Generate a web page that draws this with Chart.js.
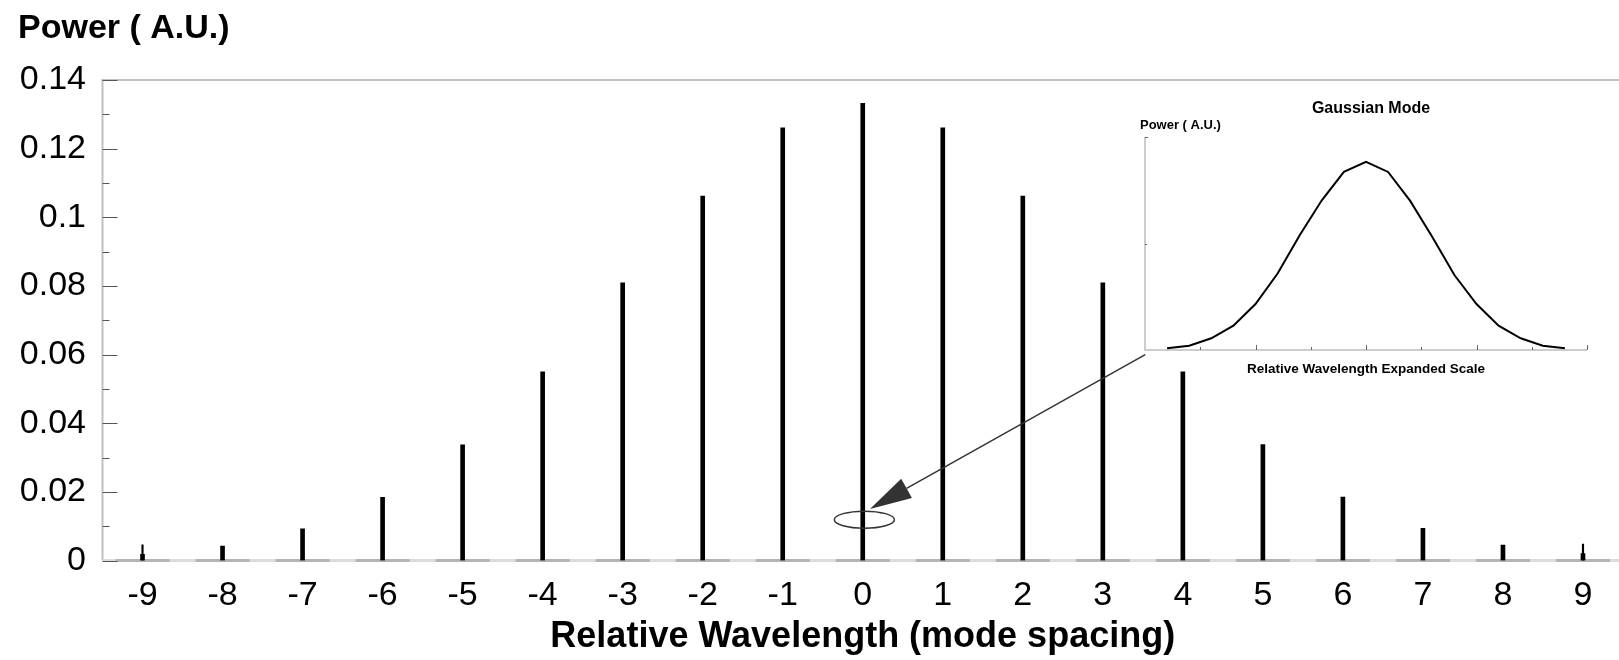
<!DOCTYPE html>
<html>
<head>
<meta charset="utf-8">
<script src="https://cdn.jsdelivr.net/npm/chart.js@4.4.1/dist/chart.umd.min.js"></script>
<style>
  html, body { margin: 0; padding: 0; background: #fff; overflow: hidden; }
  #wrap { position: relative; width: 1623px; height: 660px; }
  .box { position: absolute; }
</style>
</head>
<body>
<div id="wrap">
  <div class="box" style="left:0;top:0;width:1623px;height:660px"><canvas id="main"></canvas></div>
  <div class="box" style="left:1090px;top:85px;width:520px;height:300px"><canvas id="inset"></canvas></div>
</div>
<script>
// mode comb (main chart)
const modes = [-9, -8, -7, -6, -5, -4, -3, -2, -1, 0, 1, 2, 3, 4, 5, 6, 7, 8, 9];
const power = [0.0018, 0.0042, 0.0092, 0.0184, 0.0337, 0.0550, 0.0809, 0.1062, 0.1261, 0.1332,
               0.1261, 0.1062, 0.0809, 0.0550, 0.0338, 0.0185, 0.0094, 0.0045, 0.0020];
// thin marks at the outer modes
const edgeModes = [-9, 9];
const edgePower = [0.0046, 0.0048];

const xTickLabels = ['-9', '-8', '-7', '-6', '-5', '-4', '-3', '-2', '-1', '0',
                     '1', '2', '3', '4', '5', '6', '7', '8', '9'];
const yTicks = [0, 0.02, 0.04, 0.06, 0.08, 0.1, 0.12, 0.14];
const yTickLabels = ['0', '0.02', '0.04', '0.06', '0.08', '0.1', '0.12', '0.14'];
const yMinorTicks = [0.01, 0.03, 0.05, 0.07, 0.09, 0.11, 0.13];

// single gaussian mode (inset)
const gaussX = [1, 2, 3, 4, 5, 6, 7, 8, 9, 10, 11, 12, 13, 14, 15, 16, 17, 18, 19];
const gaussY = [0.008, 0.020, 0.055, 0.114, 0.216, 0.359, 0.539, 0.703, 0.836, 0.883,
                0.836, 0.700, 0.531, 0.352, 0.216, 0.114, 0.055, 0.020, 0.008];
const insetXTicks = [2.5, 5, 7.5, 10, 12.5, 15, 17.5, 20];

const FONT = "'Liberation Sans', Arial, Helvetica, sans-serif";
Chart.defaults.font.family = FONT;
Chart.defaults.color = '#000';

const mainFrame = {
  id: 'mainFrame',
  beforeDatasetsDraw(chart) {
    const { ctx, chartArea: a, scales: { x, y } } = chart;
    ctx.save();
    // top and left border
    ctx.strokeStyle = '#c0c0c0';
    ctx.lineWidth = 2;
    ctx.beginPath();
    ctx.moveTo(a.left, a.bottom);
    ctx.lineTo(a.left, a.top);
    ctx.lineTo(a.right, a.top);
    ctx.stroke();
    // bottom axis
    ctx.strokeStyle = '#dcdcdc';
    ctx.lineWidth = 3;
    ctx.beginPath();
    ctx.moveTo(a.left, a.bottom);
    ctx.lineTo(a.right, a.bottom);
    ctx.stroke();
    ctx.strokeStyle = '#b4b4b4';
    modes.forEach(m => {
      const px = x.getPixelForValue(m);
      ctx.beginPath();
      ctx.moveTo(px - 27, a.bottom);
      ctx.lineTo(px + 27, a.bottom);
      ctx.stroke();
    });
    // y ticks, inward
    ctx.strokeStyle = '#555';
    ctx.lineWidth = 1;
    yTicks.forEach(v => {
      const py = Math.round(y.getPixelForValue(v)) + 0.5;
      ctx.beginPath();
      ctx.moveTo(a.left, py);
      ctx.lineTo(a.left + 15, py);
      ctx.stroke();
    });
    yMinorTicks.forEach(v => {
      const py = Math.round(y.getPixelForValue(v)) + 0.5;
      ctx.beginPath();
      ctx.moveTo(a.left, py);
      ctx.lineTo(a.left + 7, py);
      ctx.stroke();
    });
    ctx.restore();
  },
  afterDatasetsDraw(chart) {
    const { ctx, scales: { x, y } } = chart;
    ctx.save();
    // ellipse around the centre mode
    ctx.strokeStyle = '#333';
    ctx.lineWidth = 1.5;
    ctx.beginPath();
    ctx.ellipse(x.getPixelForValue(0.02), y.getPixelForValue(0.0119), 30, 8.5, 0, 0, Math.PI * 2);
    ctx.stroke();
    // arrow from inset corner
    const x0 = x.getPixelForValue(3.53), y0 = y.getPixelForValue(0.0600);
    const x1 = x.getPixelForValue(0.09), y1 = y.getPixelForValue(0.0150);
    const ang = Math.atan2(y1 - y0, x1 - x0);
    const len = 42, hw = 11;
    const bx = x1 - Math.cos(ang) * len, by = y1 - Math.sin(ang) * len;
    ctx.beginPath();
    ctx.moveTo(x0, y0);
    ctx.lineTo(bx, by);
    ctx.stroke();
    ctx.fillStyle = '#333';
    ctx.beginPath();
    ctx.moveTo(x1, y1);
    ctx.lineTo(bx + Math.sin(ang) * hw, by - Math.cos(ang) * hw);
    ctx.lineTo(bx - Math.sin(ang) * hw, by + Math.cos(ang) * hw);
    ctx.closePath();
    ctx.fill();
    // axis titles
    ctx.fillStyle = '#000';
    ctx.textBaseline = 'alphabetic';
    ctx.font = 'bold 34px ' + FONT;
    ctx.textAlign = 'left';
    ctx.fillText('Power ( A.U.)', 18, 38);
    ctx.font = 'bold 36px ' + FONT;
    ctx.textAlign = 'center';
    ctx.fillText('Relative Wavelength (mode spacing)', x.getPixelForValue(0), 647);
    ctx.restore();
  }
};

new Chart(document.getElementById('main'), {
  type: 'bar',
  data: {
    datasets: [
      {
        data: modes.map((m, i) => ({ x: m, y: power[i] })),
        backgroundColor: '#000',
        barThickness: 4,
        grouped: false
      },
      {
        data: edgeModes.map((m, i) => ({ x: m, y: edgePower[i] })),
        backgroundColor: '#000',
        barThickness: 1.5,
        grouped: false
      }
    ]
  },
  options: {
    responsive: true,
    maintainAspectRatio: false,
    animation: false,
    layout: { padding: { top: 80, left: 0, right: 0, bottom: 0 } },
    plugins: { legend: { display: false }, tooltip: { enabled: false } },
    scales: {
      x: {
        type: 'linear',
        min: -9.5,
        max: 9.5,
        offset: false,
        afterFit: s => { s.height = 99.5; },
        afterBuildTicks: s => { s.ticks = modes.map(v => ({ value: v })); },
        ticks: {
          callback: (v, i) => xTickLabels[i],
          font: { size: 34 },
          color: '#000',
          padding: 15,
          maxRotation: 0,
          autoSkip: false
        },
        grid: { display: false, drawTicks: false, tickLength: 0, offset: false },
        border: { display: false }
      },
      y: {
        min: 0,
        max: 0.14,
        afterFit: s => { s.width = 102.5; },
        afterBuildTicks: s => { s.ticks = yTicks.map(v => ({ value: v })); },
        ticks: {
          callback: (v, i) => yTickLabels[i],
          font: { size: 34 },
          color: '#000',
          padding: 16.5
        },
        grid: { display: false, drawTicks: false, tickLength: 0 },
        border: { display: false }
      }
    }
  },
  plugins: [mainFrame]
});

const insetFrame = {
  id: 'insetFrame',
  beforeDatasetsDraw(chart) {
    const { ctx, chartArea: a, scales: { x, y } } = chart;
    ctx.save();
    ctx.strokeStyle = '#bdbdbd';
    ctx.lineWidth = 1.5;
    ctx.beginPath();
    ctx.moveTo(a.left, y.getPixelForValue(1));
    ctx.lineTo(a.left, a.bottom);
    ctx.lineTo(a.right, a.bottom);
    ctx.stroke();
    ctx.strokeStyle = '#666';
    ctx.lineWidth = 1;
    insetXTicks.forEach(v => {
      const px = Math.round(x.getPixelForValue(v)) + 0.5;
      const l = v % 5 === 0 ? 5 : 3;
      ctx.beginPath();
      ctx.moveTo(px, a.bottom);
      ctx.lineTo(px, a.bottom - l);
      ctx.stroke();
    });
    [[1, 3], [0.5, 2]].forEach(([v, l]) => {
      const py = Math.round(y.getPixelForValue(v)) + 0.5;
      ctx.beginPath();
      ctx.moveTo(a.left, py);
      ctx.lineTo(a.left + l, py);
      ctx.stroke();
    });
    ctx.fillStyle = '#000';
    ctx.textBaseline = 'alphabetic';
    ctx.textAlign = 'center';
    ctx.font = 'bold 16px ' + FONT;
    ctx.fillText('Gaussian Mode', 281, 28);
    ctx.font = 'bold 13.5px ' + FONT;
    ctx.fillText('Relative Wavelength Expanded Scale', 276, 288);
    ctx.textAlign = 'left';
    ctx.font = 'bold 13px ' + FONT;
    ctx.fillText('Power ( A.U.)', 50, 44);
    ctx.restore();
  }
};

new Chart(document.getElementById('inset'), {
  type: 'line',
  data: {
    datasets: [{
      data: gaussX.map((v, i) => ({ x: v, y: gaussY[i] })),
      borderColor: '#000',
      borderWidth: 2,
      pointRadius: 0,
      tension: 0,
      fill: false
    }]
  },
  options: {
    responsive: true,
    maintainAspectRatio: false,
    animation: false,
    layout: { padding: { left: 55, right: 23, top: 52, bottom: 35 } },
    plugins: { legend: { display: false }, tooltip: { enabled: false } },
    scales: {
      x: { type: 'linear', min: 0, max: 20, display: false },
      y: { min: 0, max: 1, display: false }
    }
  },
  plugins: [insetFrame]
});
</script>
</body>
</html>
